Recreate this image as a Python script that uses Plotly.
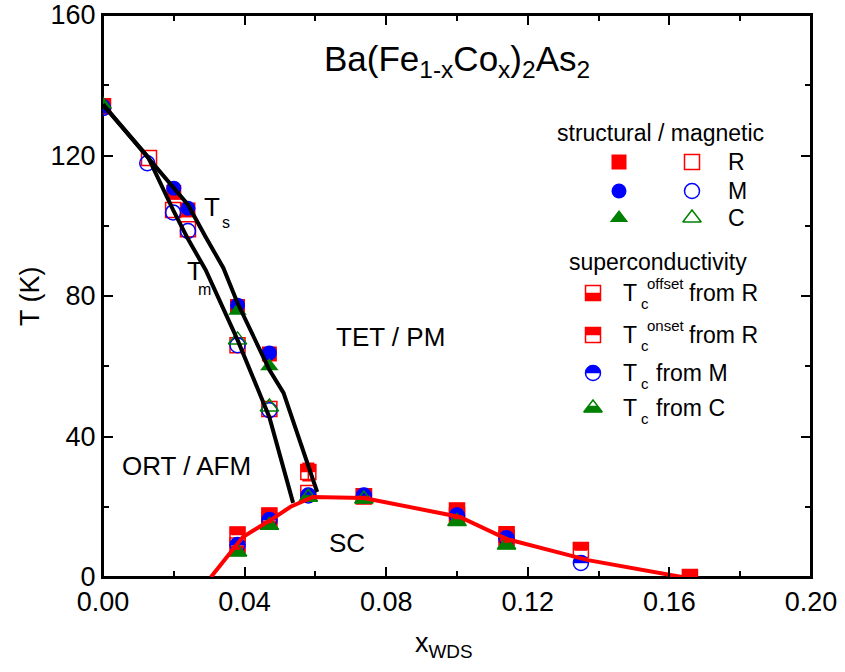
import numpy as np
import plotly.graph_objects as go

# ---------------- data ----------------
# structural transition T_s (filled symbols): R = resistivity, M = magnetization, C = specific heat
ts_r_x = [0.0, 0.020, 0.024, 0.038, 0.047]
ts_r_T = [134.0, 109.5, 104.5, 77.0, 63.5]
ts_m_x = [0.0, 0.020, 0.024, 0.038, 0.047]
ts_m_T = [134.0, 110.7, 105.0, 77.4, 63.8]
ts_c_x = [0.0, 0.038, 0.047]
ts_c_T = [134.5, 75.8, 60.0]

# magnetic transition T_m (open symbols)
tm_r_x = [0.0, 0.013, 0.0198, 0.024, 0.038, 0.047]
tm_r_T = [134.0, 119.3, 104.5, 99.0, 66.0, 47.8]
tm_m_x = [0.0, 0.0125, 0.0198, 0.024, 0.038, 0.047]
tm_m_T = [133.5, 117.8, 103.8, 98.5, 66.0, 47.5]
tm_c_x = [0.038, 0.047]
tm_c_T = [67.5, 48.4]

# superconductivity
sc_onset_x = [0.038, 0.047, 0.058, 0.0737, 0.100, 0.114, 0.135, 0.1658]
sc_onset_T = [12.1, 17.5, 29.9, 23.0, 18.9, 12.2, 7.7, 0.0]
sc_onset_err = [0, 0, 2.5, 0, 0, 0, 0, 0]
sc_offset_x = [0.038, 0.047, 0.058, 0.0737, 0.100, 0.114]
sc_offset_T = [9.0, 16.0, 23.9, 23.0, 17.5, 11.0]
sc_m_x = [0.038, 0.047, 0.058, 0.0737, 0.100, 0.114, 0.135]
sc_m_T = [9.1, 16.2, 23.2, 23.2, 17.5, 11.0, 4.0]
sc_c_x = [0.038, 0.047, 0.058, 0.0737, 0.100, 0.114]
sc_c_T = [7.1, 14.7, 22.7, 22.2, 15.8, 9.1]

# guide lines
ts_line_x = [0.0, 0.020, 0.024, 0.029, 0.034, 0.038, 0.047, 0.051, 0.0605]
ts_line_T = [134.5, 111.0, 106.0, 96.8, 88.0, 78.0, 59.0, 52.4, 24.2]
tm_line_x = [0.0, 0.0127, 0.0198, 0.0237, 0.029, 0.038, 0.045, 0.047, 0.0537]
tm_line_T = [134.5, 119.6, 104.5, 96.8, 87.4, 67.5, 50.4, 45.5, 21.1]
tc_line_x = [0.0305, 0.0395, 0.047, 0.053, 0.0593, 0.0737, 0.1008, 0.1141, 0.137, 0.1635]
tc_line_T = [0.0, 11.4, 16.0, 20.0, 22.8, 22.5, 17.1, 10.8, 4.8, 0.0]

x_ticks = [0.00, 0.04, 0.08, 0.12, 0.16, 0.20]
y_ticks = [0, 40, 80, 120, 160]

# ---------------- geometry / style ----------------
PAGE = 0                                # page body margin removed by the post script
W, H = 845 - 2 * PAGE, 672 - 2 * PAGE
PL, PT, PW, PH = 103, 15, 708, 562      # plot area in window pixels
ML, MT = PL - PAGE, PT - PAGE
MR, MB = W - ML - PW, H - MT - PH
XR, YR = [0.0, 0.20], [0.0, 160.0]
SX = (XR[1] - XR[0]) / PW   # data units per pixel
SY = (YR[1] - YR[0]) / PH

RED, BLUE, GREEN = "#ff0000", "#0000ff", "#008000"
FONT = "Arial, Liberation Sans, sans-serif"
SQ, CI, TR = 15, 15, 16   # marker sizes


def px2x(px):
    return XR[0] + (px - PL) * SX


def py2y(py):
    return YR[0] + (PT + PH - py) * SY


def half_fill(xs, ys, kind, size):
    r = size / 2.0
    out_x, out_y = [], []
    for x, y in zip(xs, ys):
        if kind == "sq_top":
            pts = [(-r, 0), (r, 0), (r, r), (-r, r)]
        elif kind == "sq_bot":
            pts = [(-r, -r), (r, -r), (r, 0), (-r, 0)]
        elif kind == "circ_top":
            t = np.linspace(0, np.pi, 30)
            pts = list(zip(r * np.cos(t), r * np.sin(t)))
        else:  # triangle, lower part filled
            rt = r * 2 / np.sqrt(3)
            f = 0.5
            yb = -r / 2
            h = 1.5 * r * f
            pts = [(-rt, yb), (rt, yb), (rt * (1 - f), yb + h), (-rt * (1 - f), yb + h)]
        pts = pts + [pts[0]]
        for a, b in pts:
            out_x.append(x + a * SX)
            out_y.append(y + b * SY)
        out_x.append(None)
        out_y.append(None)
    return out_x, out_y


fig = go.Figure()


def marker_trace(xs, ys, symbol, size, color, lw=1.5, err=None):
    kw = {}
    if err is not None:
        kw["error_y"] = dict(type="data", array=err, visible=True, color=color,
                             thickness=1.5, width=6)
    fig.add_trace(go.Scatter(
        x=xs, y=ys, mode="markers",
        marker=dict(symbol=symbol, size=size, color=color,
                    line=dict(color=color, width=lw)),
        showlegend=False, hoverinfo="skip", **kw))


def fill_trace(xs, ys, kind, size, color):
    px, py = half_fill(xs, ys, kind, size)
    fig.add_trace(go.Scatter(
        x=px, y=py, mode="lines", fill="toself", fillcolor=color,
        line=dict(color=color, width=0.5), showlegend=False, hoverinfo="skip"))


# R (squares)
marker_trace(ts_r_x, ts_r_T, "square", SQ, RED, lw=0)
marker_trace(tm_r_x, tm_r_T, "square-open", SQ, RED)
marker_trace(sc_offset_x, sc_offset_T, "square-open", SQ, RED)
fill_trace(sc_offset_x, sc_offset_T, "sq_bot", SQ, RED)
marker_trace(sc_onset_x, sc_onset_T, "square-open", SQ, RED, err=sc_onset_err)
fill_trace(sc_onset_x, sc_onset_T, "sq_top", SQ, RED)
# M (circles)
marker_trace(ts_m_x, ts_m_T, "circle", CI, BLUE, lw=0)
marker_trace(tm_m_x, tm_m_T, "circle-open", CI, BLUE)
marker_trace(sc_m_x, sc_m_T, "circle-open", CI, BLUE)
fill_trace(sc_m_x, sc_m_T, "circ_top", CI, BLUE)
# C (triangles)
marker_trace(ts_c_x, ts_c_T, "triangle-up", TR, GREEN, lw=0)
marker_trace(tm_c_x, tm_c_T, "triangle-up-open", TR, GREEN)
marker_trace(sc_c_x, sc_c_T, "triangle-up-open", TR, GREEN)
fill_trace(sc_c_x, sc_c_T, "tri_bot", TR, GREEN)

# lines
for lx, ly, col in [(ts_line_x, ts_line_T, "black"),
                    (tm_line_x, tm_line_T, "black"),
                    (tc_line_x, tc_line_T, RED)]:
    fig.add_trace(go.Scatter(x=lx, y=ly, mode="lines",
                             line=dict(color=col, width=4),
                             showlegend=False, hoverinfo="skip"))

# ---------------- custom legend ----------------
leg_rows = [(162, RED, "square", "square-open", "R"),
            (191, BLUE, "circle", "circle-open", "M"),
            (218, GREEN, "triangle-up", "triangle-up-open", "C")]
for py, col, sf, so, lab in leg_rows:
    size = TR if "triangle" in sf else SQ
    marker_trace([px2x(619)], [py2y(py)], sf, size, col, lw=0)
    marker_trace([px2x(692)], [py2y(py)], so, size, col)

lx = px2x(593)
marker_trace([lx], [py2y(293)], "square-open", SQ, RED)
fill_trace([lx], [py2y(293)], "sq_bot", SQ, RED)
marker_trace([lx], [py2y(335)], "square-open", SQ, RED)
fill_trace([lx], [py2y(335)], "sq_top", SQ, RED)
marker_trace([lx], [py2y(373)], "circle-open", CI, BLUE)
fill_trace([lx], [py2y(373)], "circ_top", CI, BLUE)
marker_trace([lx], [py2y(408)], "triangle-up-open", TR, GREEN)
fill_trace([lx], [py2y(408)], "tri_bot", TR, GREEN)

annotations = []


def text(px, py, s, size, xanchor="center", yanchor="middle", textangle=0):
    annotations.append(dict(
        x=(px - PL) / PW, y=(PT + PH - py) / PH, xref="paper", yref="paper",
        text=s, showarrow=False, xanchor=xanchor, yanchor=yanchor,
        textangle=textangle, font=dict(family=FONT, size=size, color="black")))


LF = 23
text(660, 133, "structural / magnetic", LF)
for py, _, _, _, lab in leg_rows:
    text(726, py, lab, LF, xanchor="left")
text(658, 262, "superconductivity", LF)
# T_c labels (sub + sup stacked)
for py, sup, rest in [(293, "offset", "from R"), (335, "onset", "from R")]:
    text(621, py, "T", LF, xanchor="left")
    text(639, py + 10, "c", 15, xanchor="left")
    text(645, py - 10, sup, 15, xanchor="left")
    text(687, py, rest, LF, xanchor="left")
for py, rest in [(373, "from M"), (408, "from C")]:
    text(621, py, "T", LF, xanchor="left")
    text(639, py + 10, "c", 15, xanchor="left")
    text(654, py, rest, LF, xanchor="left")

# region labels
text(390, 337, "TET / PM", 26)
text(186, 466, "ORT / AFM", 26)
text(347, 543, "SC", 26)
text(212, 207, "T", 26)
text(226, 222, "s", 16)
text(195, 271, "T", 26)
text(204, 289, "m", 16)

# formula
text(457, 61, "Ba(Fe<sub>1-x</sub>Co<sub>x</sub>)<sub>2</sub>As<sub>2</sub>", 35)

# axis titles
text(30, 296, "T (K)", 27, textangle=-90)
text(444, 645, "x<sub>WDS</sub>", 27)

axis_common = dict(showline=True, linecolor="black", linewidth=2, mirror="ticks",
                   ticks="inside", ticklen=10, tickwidth=2, tickcolor="black",
                   showgrid=False, zeroline=False, automargin=False,
                   ticklabeloverflow="allow",
                   tickfont=dict(family=FONT, size=27, color="black"))

fig.update_layout(
    width=W, height=H,
    margin=dict(l=ML, r=MR, t=MT, b=MB, pad=0, autoexpand=False),
    paper_bgcolor="white", plot_bgcolor="white",
    showlegend=False,
    annotations=annotations,
    shapes=[dict(type="rect", xref="paper", yref="paper", x0=0, x1=1, y0=0, y1=1,
                 line=dict(color="black", width=2), layer="below")],
    xaxis=dict(range=XR, tickvals=x_ticks, ticktext=[f"{v:.2f}" for v in x_ticks],
               minor=dict(ticks="inside", ticklen=6, tickwidth=2, tickcolor="black",
                          dtick=0.02, tick0=0),
               **axis_common),
    yaxis=dict(range=YR, tickvals=y_ticks, ticktext=[str(v) for v in y_ticks],
               minor=dict(ticks="inside", ticklen=6, tickwidth=2, tickcolor="black",
                          dtick=20, tick0=0),
               **axis_common),
)

fig.write_html("out.html",
               config={"displayModeBar": False},
               post_script="document.body.style.margin='0';"
                           "document.body.style.overflow='hidden';")
